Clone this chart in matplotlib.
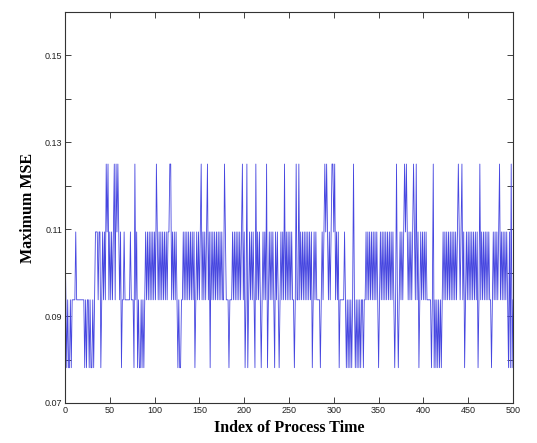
import numpy as np
import matplotlib
matplotlib.use("Agg")
import matplotlib.pyplot as plt
from matplotlib.ticker import FixedLocator, FuncFormatter

# Quantised MSE levels (k/64) and the level index sequence
levels = {5: 5/64, 6: 6/64, 7: 7/64, 8: 8/64}
seq_blocks = [
    "7656556566", "6676666666", "6656566565", "5656777677", "5676768786",
    "7676786878", "7675667666", "6667666586", "7565565656", "7676767676",
    "7687676767", "6767677886", "7676765655", "6676767676", "7676756767",
    "6786767678", "6757676767", "6767676687", "6665666767", "6767676786",
    "7568567676", "7658676765", "6767685676", "7676576765", "6767686767",
    "6767665686", "6867676767", "6767675676", "7666656767", "8787676788",
    "7867675666", "6676565656", "5686565656", "5665667676", "7676767676",
    "5676767676", "7676767656", "8656767678", "7876767678", "7686756767",
    "6767666665", "6856565656", "5676767676", "7676767678", "7678675676",
    "7676767676", "7568676767", "6767665676", "7676786767", "6767657585",
    "6",
]
mse_values = [levels[int(c)] for c in "".join(seq_blocks)]
process_index = list(range(len(mse_values)))

x_ticks = [0, 50, 100, 150, 200, 250, 300, 350, 400, 450, 500]
y_ticks = [0.07, 0.08, 0.09, 0.10, 0.11, 0.12, 0.13, 0.14, 0.15, 0.16]
y_labelled = [0.07, 0.09, 0.11, 0.13, 0.15]

fig = plt.figure(figsize=(5.37, 4.43), dpi=100)
ax = fig.add_axes([65/537, 1-403/443, (513-65)/537, (403-12)/443])
ax.plot(process_index, mse_values, color="#4646e0", linewidth=0.6)

ax.set_xlim(0, 500)
ax.set_ylim(0.07, 0.16)
ax.xaxis.set_major_locator(FixedLocator(x_ticks))
ax.yaxis.set_major_locator(FixedLocator(y_ticks))

def yfmt(v, pos):
    for t in y_labelled:
        if abs(v - t) < 1e-6:
            return f"{t:.2f}"
    return ""
ax.yaxis.set_major_formatter(FuncFormatter(yfmt))
ax.xaxis.set_major_formatter(FuncFormatter(lambda v, p: f"{int(round(v))}"))

ax.tick_params(direction="in", length=4, width=0.6, top=True, right=True,
               labelsize=6.5, colors="#222222", pad=2)
for lab in ax.get_xticklabels() + ax.get_yticklabels():
    lab.set_fontfamily("Liberation Sans")
for s in ax.spines.values():
    s.set_linewidth(0.8)
    s.set_color("#333333")

ax.set_xlabel("Index of Process Time", fontfamily="Liberation Serif",
              fontweight="bold", fontsize=11.5, labelpad=4)
ax.set_ylabel("Maximum MSE", fontfamily="Liberation Serif",
              fontweight="bold", fontsize=11.5, labelpad=6)

fig.savefig("out.png", dpi=100)
